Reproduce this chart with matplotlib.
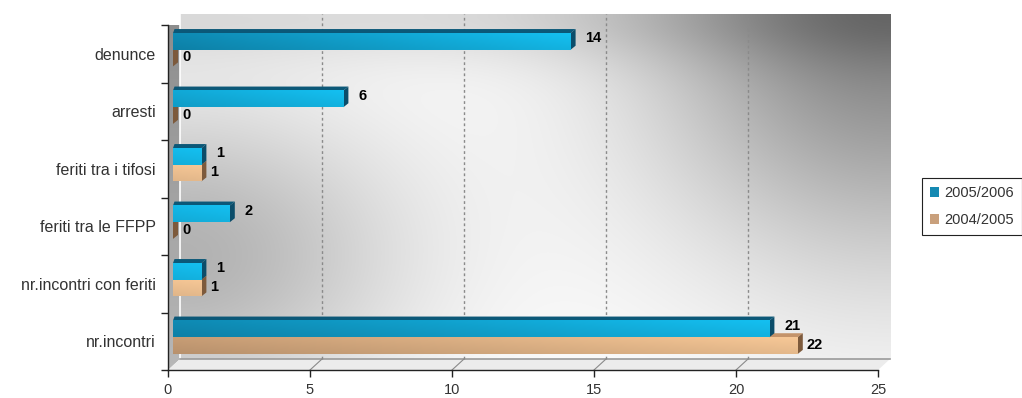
import numpy as np
import matplotlib
matplotlib.use("Agg")
import matplotlib.pyplot as plt
from matplotlib.colors import LinearSegmentedColormap
from matplotlib.patches import Polygon, Patch

# ---- data -----------------------------------------------------------------
categories = ["nr.incontri", "nr.incontri con feriti", "feriti tra le FFPP",
              "feriti tra i tifosi", "arresti", "denunce"]
season_new = [21, 1, 2, 1, 6, 14]      # 2005/2006
season_old = [22, 1, 0, 1, 0, 0]       # 2004/2005
series_labels = ["2005/2006", "2004/2005"]
x_ticks = [0, 5, 10, 15, 20, 25]

plt.rcParams["font.family"] = ["Liberation Sans", "DejaVu Sans"]

W, H = 1022, 398
fig = plt.figure(figsize=(W / 100, H / 100), dpi=100)
fig.patch.set_facecolor("white")
ax = fig.add_axes([168 / W, 28 / H, 710 / W, 345 / H])
ax.set_xlim(0, 25)
ax.set_ylim(-0.5, len(categories) - 0.5)
ax.set_facecolor("none")

# pixel -> data scale factors
ppx = 710 / 25.0
ppy = 345 / len(categories)
wall_dx, wall_dy = 12 / ppx, 11 / ppy          # depth of the chart box
bar_dx, bar_dy = 5 / ppx, 4 / ppy              # depth of each bar
bar_shift = 5 / ppx                            # bars sit slightly behind front plane

x0, x1 = ax.get_xlim()
y0, y1 = ax.get_ylim()

# ---- back wall with soft grey shading ---------------------------------------
nu, nw = 400, 200
u = np.linspace(0, 1, nu)[None, :]
w = np.linspace(1, 0, nw)[:, None]
shade = (0.48 * np.exp(-((1 - u) ** 2 / 0.12 + (1 - w) ** 2 / 0.5))
         + 0.30 * np.exp(-(u ** 2 / 0.10 + (w - 0.30) ** 2 / 0.20))
         + 0.12 * np.exp(-((1 - w) ** 2) / 0.02))
bright = np.clip(1.0 - shade, 0, 1)
wall_img = np.dstack([bright, bright, bright])
ax.imshow(wall_img, extent=(x0 + wall_dx, x1 + wall_dx, y0 + wall_dy, y1 + wall_dy),
          aspect="auto", zorder=0, clip_on=False, interpolation="bilinear")

# left side wall
left_wall = Polygon([(x0, y0), (x0, y1), (x0 + wall_dx, y1 + wall_dy), (x0 + wall_dx, y0 + wall_dy)],
                    closed=True, facecolor="none", edgecolor="none")
ax.add_patch(left_wall)
lw_shade = np.linspace(0.55, 0.72, 100)[:, None] * np.ones((1, 4))
lw_img = ax.imshow(np.dstack([lw_shade] * 3), extent=(x0, x0 + wall_dx, y0, y1 + wall_dy),
                   aspect="auto", zorder=1, clip_on=True, interpolation="bilinear")
lw_img.set_clip_path(left_wall)
ax.plot([x0 + wall_dx, x0 + wall_dx], [y0 + wall_dy, y1 + wall_dy], color="white", lw=1.2,
        zorder=1.5, clip_on=False)

# floor
floor = Polygon([(x0, y0), (x1, y0), (x1 + wall_dx, y0 + wall_dy), (x0 + wall_dx, y0 + wall_dy)],
                closed=True, facecolor="#ececec", edgecolor="none", zorder=1, clip_on=False)
ax.add_patch(floor)
ax.plot([x0 + wall_dx, x1 + wall_dx], [y0 + wall_dy, y0 + wall_dy], color="#9a9a9a", lw=1.2,
        zorder=1.6, clip_on=False)

# dotted grid lines on the back wall and across the floor
for xv in x_ticks[1:-1]:
    ax.plot([xv + wall_dx, xv + wall_dx], [y0 + wall_dy, y1 + wall_dy], color="#8a8a8a",
            lw=1.0, ls=(0, (2, 2)), zorder=2, clip_on=False)
    ax.plot([xv, xv + wall_dx], [y0, y0 + wall_dy], color="#8a8a8a", lw=0.8, zorder=2,
            clip_on=False)

# ---- 3D bars ------------------------------------------------------------------
blue_cmap = LinearSegmentedColormap.from_list("blue", ["#0a5f82", "#14bff0"])
tan_cmap = LinearSegmentedColormap.from_list("tan", ["#a07a5a", "#f6c796"])


def front_face(v, yb, yt, cmap, z):
    s0 = 1 - 0.55 * min(v, 14) / 14.0
    grad = np.linspace(s0, 1.0, 64)[None, :]
    rgb = cmap(grad)[..., :3]
    vshade = np.linspace(1.0, 0.93, 8)[:, None, None]
    ax.imshow(rgb * vshade, extent=(bar_shift, v + bar_shift, yb, yt), aspect="auto",
              zorder=z, clip_on=False, interpolation="bilinear")


def top_face(v, yt, color, z):
    xs = bar_shift
    ax.add_patch(Polygon([(xs, yt), (v + xs, yt), (v + xs + bar_dx, yt + bar_dy),
                          (xs + bar_dx * 0.3, yt + bar_dy)],
                         closed=True, facecolor=color, edgecolor="none", zorder=z, clip_on=False))


def side_face(v, yb, yt, color, z):
    xe = v + bar_shift
    ax.add_patch(Polygon([(xe, yb), (xe, yt), (xe + bar_dx, yt + bar_dy), (xe + bar_dx, yb + bar_dy)],
                         closed=True, facecolor=color, edgecolor="none", zorder=z, clip_on=False))


blue_off = (0.07, 0.36)
tan_off = (-0.22, 0.07)
for i, (vb, vt) in enumerate(zip(season_new, season_old)):
    tb, tt = i + tan_off[0], i + tan_off[1]
    bb, bt = i + blue_off[0], i + blue_off[1]
    top_face(vt, tt, "#c4936a", 3)
    side_face(vt, tb, tt, "#7d5a3c", 3.5)
    front_face(vt, tb, tt, tan_cmap, 3.6)
    top_face(vb, bt, "#0b5878", 4)
    side_face(vb, bb, bt, "#0b4d6a", 4)
    if vb > 0:
        front_face(vb, bb, bt, blue_cmap, 4.2)

    ax.annotate(str(vb), xy=(vb, (bb + bt) / 2), xytext=((5 + 15) * 0.72, 3 * 0.72),
                textcoords="offset points", ha="left", va="center", fontsize=10.5,
                fontweight="bold", color="black", zorder=6, annotation_clip=False)
    ax.annotate(str(vt), xy=(vt, (tb + tt) / 2), xytext=((5 + 9) * 0.72, 1 * 0.72),
                textcoords="offset points", ha="left", va="center", fontsize=10.5,
                fontweight="bold", color="black", zorder=6, annotation_clip=False)

# ---- axes -----------------------------------------------------------------
for side in ("top", "right"):
    ax.spines[side].set_visible(False)
for side in ("left", "bottom"):
    ax.spines[side].set_color("#222222")
    ax.spines[side].set_linewidth(1.0)
    ax.spines[side].set_zorder(5)

ax.set_xticks(x_ticks)
ax.set_xticklabels([str(t) for t in x_ticks])
ax.tick_params(axis="x", length=5, width=1, color="#222222", pad=4, labelsize=10.5,
               labelcolor="#333333")

ax.set_yticks(np.arange(-0.5, len(categories), 1.0))
ax.set_yticklabels([])
ax.set_yticks(np.arange(len(categories)), minor=True)
ax.set_yticklabels(categories, minor=True)
ax.tick_params(axis="y", which="major", length=5, width=1, color="#222222")
ax.tick_params(axis="y", which="minor", length=0, pad=9, labelsize=11.5,
               labelcolor="#333333")

# ---- legend ---------------------------------------------------------------
handles = [Patch(facecolor="#1589b2", edgecolor="none"),
           Patch(facecolor="#c9a07c", edgecolor="none")]
leg = fig.legend(handles, series_labels, loc="upper left",
                 bbox_to_anchor=(922 / W, 1 - 178 / H), fontsize=10.5, frameon=True,
                 fancybox=False, edgecolor="#222222", framealpha=1, borderpad=0.55,
                 handlelength=0.6, handleheight=0.6, handletextpad=0.4,
                 labelspacing=0.9, borderaxespad=0)
leg.get_frame().set_linewidth(0.8)
for t in leg.get_texts():
    t.set_color("#333333")

fig.savefig("out.png", dpi=100, facecolor="white")
